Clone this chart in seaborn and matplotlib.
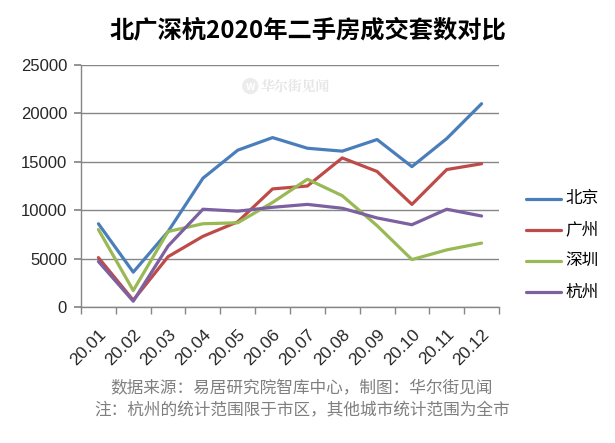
import numpy as np
import pandas as pd
import matplotlib.pyplot as plt
import seaborn as sns

# 数据
months = ["20.01", "20.02", "20.03", "20.04", "20.05", "20.06",
          "20.07", "20.08", "20.09", "20.10", "20.11", "20.12"]
beijing = [8600, 3600, 7800, 13300, 16200, 17500, 16400, 16100, 17300, 14500, 17400, 21000]
guangzhou = [5100, 700, 5200, 7300, 8800, 12200, 12500, 15400, 14000, 10600, 14200, 14800]
shenzhen = [8000, 1700, 7800, 8600, 8700, 10800, 13200, 11500, 8400, 4900, 5900, 6600]
hangzhou = [4700, 600, 6300, 10100, 9900, 10300, 10600, 10200, 9200, 8500, 10100, 9400]
cities = ["北京", "广州", "深圳", "杭州"]
yticks = [0, 5000, 10000, 15000, 20000, 25000]

series = [beijing, guangzhou, shenzhen, hangzhou]
df = pd.DataFrame({
    "idx": list(range(len(months))) * len(cities),
    "value": sum(series, []),
    "city": [c for c in cities for _ in months],
})

sns.set_theme(style="white")
plt.rcParams['font.family'] = ['Noto Sans CJK SC', 'DejaVu Sans']

fig = plt.figure(figsize=(6.15, 4.43), dpi=100)
ax = fig.add_axes([81 / 615, 1 - 307 / 443, 418 / 615, 242 / 443])

palette = ["#4A7EBB", "#BE4B48", "#98B954", "#7D60A0"]
sns.lineplot(data=df, x="idx", y="value", hue="city", palette=palette,
             linewidth=2.3, ax=ax, legend=False)

ax.set_xlim(-0.5, 11.5)
ax.set_ylim(0, 25000)
ax.set_yticks(yticks)
ax.set_yticklabels([str(v) for v in yticks], fontsize=12, family='Liberation Sans')
ax.grid(axis='y', color='#868686', linewidth=1)
ax.set_axisbelow(True)

ax.set_xticks(range(len(months)))
ax.set_xticklabels(months, rotation=45, ha='right', rotation_mode='anchor',
                   fontsize=12.5, family='Liberation Sans')
ax.set_xticks(np.arange(-0.5, 12, 1), minor=True)
ax.tick_params(axis='x', which='major', length=0, pad=14)
ax.tick_params(axis='x', which='minor', length=5, color='#868686', bottom=True)
ax.tick_params(axis='y', length=5, color='#868686', left=True, pad=5)
ax.set_xlabel("")
ax.set_ylabel("")

for side in ['top', 'right']:
    ax.spines[side].set_visible(False)
for side in ['left', 'bottom']:
    ax.spines[side].set_color('#868686')
    ax.spines[side].set_linewidth(1)

# 水印
ax.text(0.405, 0.913, "w", transform=ax.transAxes, fontsize=8, color='white',
        fontweight='bold', ha='center', va='center',
        bbox=dict(boxstyle='circle,pad=0.15', fc='#ececec', ec='none'))
ax.text(0.43, 0.913, "华尔街见闻", transform=ax.transAxes, fontsize=10,
        color='#e6e6e6', fontweight='bold', ha='left', va='center',
        family=['Noto Serif CJK SC', 'Noto Sans CJK SC'])

# 图例
legend_y = [199, 230, 261, 292]
for name, col, yp in zip(cities, palette, legend_y):
    yf = 1 - yp / 443
    fig.add_artist(plt.Line2D([526 / 615, 561 / 615], [yf, yf], color=col,
                              linewidth=2.3, transform=fig.transFigure))
    fig.text(565 / 615, yf, name, fontsize=12, va='center', ha='left', color='black')

fig.text(0.5, 1 - 30 / 443, "北广深杭2020年二手房成交套数对比", fontsize=17.5,
         fontweight='bold', ha='center', va='center', color='black')
fig.text(302 / 615, 1 - 389 / 443, "数据来源：易居研究院智库中心，制图：华尔街见闻",
         fontsize=12, color='#7f7f7f', ha='center', va='center')
fig.text(302 / 615, 1 - 411 / 443, "注：杭州的统计范围限于市区，其他城市统计范围为全市",
         fontsize=12, color='#7f7f7f', ha='center', va='center')

fig.savefig("out.png", dpi=100)
